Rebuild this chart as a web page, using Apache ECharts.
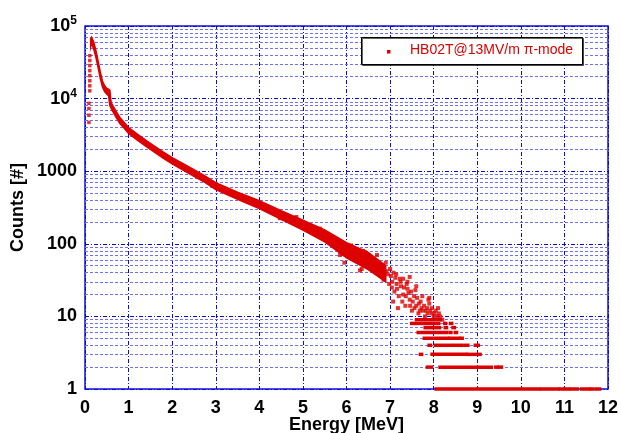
<!DOCTYPE html>
<html>
<head>
<meta charset="utf-8">
<script src="https://cdn.jsdelivr.net/npm/echarts@6/dist/echarts.min.js"></script>
<style>
  html, body { margin: 0; padding: 0; background: #fff; }
  #chart { width: 621px; height: 433px; }
</style>
</head>
<body>
<div id="chart"></div>
<script>
// main band of the spectrum: energy [MeV] with lower / upper edge of the red trace
const energy = [0.13, 0.15, 0.20, 0.25, 0.30, 0.35, 0.40, 0.45, 0.50, 0.54, 0.57, 0.60, 0.70, 0.80, 0.90,
  1.00, 1.20, 1.40, 1.60, 1.80, 2.00, 2.20, 2.50, 2.75, 3.00, 3.50, 4.00, 4.50, 5.00, 5.50, 6.00, 6.50, 6.90];
const bandLow = [52000, 58000, 48000, 37000, 27000, 19000, 14500, 12500, 11500, 11000, 8000, 7300, 5700, 4550, 3900,
  3300, 2680, 2200, 1820, 1500, 1260, 1080, 850, 700, 560, 410, 305, 218, 154, 106, 64, 44, 30];
const bandHigh = [66000, 70000, 60000, 46000, 33000, 23500, 17500, 15000, 13800, 13500, 13000, 8800, 6900, 5500, 4700,
  4000, 3250, 2660, 2200, 1830, 1540, 1320, 1050, 860, 695, 515, 392, 285, 212, 155, 104, 76, 50];

// rising edge column near 0.1 MeV
const edgeE = [0.11, 0.11, 0.11, 0.11, 0.11, 0.11, 0.11, 0.11, 0.09, 0.09, 0.09, 0.09];
const edgeCounts = [39000, 33500, 28500, 24300, 20700, 17600, 15000, 12800, 8600, 7300, 5900, 4700];

// scattered points of the noisy tail
const tailPoints = [
  [4.47, 225], [4.85, 234], [5.39, 162], [5.85, 70], [5.95, 55], [6.10, 95], [6.31, 43], [6.35, 45],
  [6.38, 80], [6.42, 77], [6.60, 45], [6.70, 70], [6.75, 38], [6.85, 32], [6.90, 55], [7.00, 45],
  [7.05, 30], [7.07, 16], [7.10, 22], [7.15, 28], [7.18, 13], [7.22, 33], [7.25, 26], [7.30, 20],
  [7.35, 14], [7.40, 24], [7.40, 30], [7.45, 17], [7.50, 12], [7.55, 19], [7.60, 14], [7.65, 11],
  [7.70, 16], [7.75, 12], [7.80, 10], [7.85, 13], [7.90, 15], [7.95, 11], [8.00, 10], [8.05, 12],
  [8.10, 13], [8.15, 10], [8.20, 9],
  [6.95, 38], [6.98, 28], [7.02, 36], [7.08, 40], [7.12, 34], [7.16, 24], [7.20, 19], [7.24, 30],
  [7.28, 16], [7.32, 25], [7.36, 19], [7.38, 28], [7.42, 21], [7.46, 14], [7.48, 22], [7.52, 16],
  [7.56, 13], [7.58, 23], [7.62, 18], [7.66, 15], [7.68, 12], [7.72, 13], [7.74, 19], [7.78, 14],
  [7.82, 12], [7.86, 11], [7.88, 17], [7.92, 12], [7.96, 13], [8.02, 11], [8.08, 10], [8.12, 11],
  [7.45, 35], [7.30, 33], [7.60, 26], [7.90, 18], [6.80, 48], [6.92, 42], [7.04, 25], [7.14, 38]
];

// runs of single counts: [counts, from MeV, to MeV]
const countRuns = [
  [9, 7.60, 8.15],
  [8, 7.49, 8.12], [8, 8.25, 8.28], [8, 8.38, 8.42],
  [7, 7.80, 8.14], [7, 8.26, 8.30], [7, 8.44, 8.48],
  [6, 7.64, 8.30], [6, 8.37, 8.40], [6, 8.49, 8.53],
  [5, 7.78, 8.33], [5, 8.37, 8.58], [5, 8.62, 8.66],
  [4, 7.89, 7.93], [4, 8.03, 8.66], [4, 8.73, 8.79], [4, 8.95, 9.03],
  [3, 7.69, 7.73], [3, 7.96, 8.75], [3, 8.79, 9.07],
  [2, 7.85, 7.96], [2, 8.14, 9.33], [2, 9.42, 9.47], [2, 9.50, 9.56],
  [1, 8.05, 10.42], [1, 10.47, 10.86], [1, 10.90, 10.96], [1, 11.01, 11.10],
  [1, 11.15, 11.30], [1, 11.39, 11.57], [1, 11.61, 11.66], [1, 11.73, 11.81]
];

const decades = [1, 10, 100, 1000, 10000];
const seriesName = 'HB02T@13MV/m π-mode';
const red = '#dc0000';
const gridBlue = '#0a0ad8';
const minorBlue = '#7070ea';

const minorLevels = [];
for (const d of decades) {
  for (let m = 2; m <= 9; m++) minorLevels.push({ yAxis: d * m });
}

const chart = echarts.init(document.getElementById('chart'));

function yLabel(value) {
  if (value >= 10000) {
    return '10{sup|' + Math.round(Math.log10(value)) + '}';
  }
  return String(value);
}

const boldText = { fontFamily: 'Liberation Sans', fontWeight: 'bold', fontSize: 18, color: '#000' };

chart.setOption({
  animation: false,
  grid: {
    left: 85, right: 13, top: 26, bottom: 44,
    outerBoundsMode: 'none',
    containLabel: false,
    show: true, borderColor: '#1010dd', borderWidth: 1.5
  },
  xAxis: {
    type: 'value', min: 0, max: 12, interval: 1,
    name: 'Energy [MeV]', nameLocation: 'middle', nameGap: 27,
    nameMoveOverlap: false,
    nameTextStyle: boldText,
    axisLine: { show: false }, axisTick: { show: false },
    axisLabel: { ...boldText, margin: 10 },
    splitLine: { show: true, lineStyle: { color: gridBlue, width: 1, type: [4, 2, 1, 2] } }
  },
  yAxis: {
    type: 'log', logBase: 10, min: 1, max: 100000,
    name: 'Counts [#]', nameLocation: 'middle', nameGap: 58,
    nameMoveOverlap: false,
    nameTextStyle: boldText,
    axisLine: { show: false }, axisTick: { show: false },
    axisLabel: {
      ...boldText, margin: 8,
      formatter: yLabel,
      rich: { sup: { fontFamily: 'Liberation Sans', fontWeight: 'bold', fontSize: 12, color: '#000', verticalAlign: 'bottom', padding: [0, 0, 10, 0] } }
    },
    splitLine: { show: true, lineStyle: { color: gridBlue, width: 1, type: [4, 2, 1, 2] } }
  },
  series: [
    {
      name: 'minor grid',
      type: 'line',
      data: [[0, 1]],
      showSymbol: false,
      lineStyle: { opacity: 0 },
      silent: true,
      z: 1,
      markLine: {
        silent: true,
        symbol: 'none',
        label: { show: false },
        lineStyle: { color: minorBlue, width: 1, type: [3, 2] },
        data: minorLevels
      }
    },
    {
      name: seriesName,
      type: 'custom',
      z: 5,
      data: [[0, 1]],
      renderItem(params, api) {
        const points = [];
        for (let i = 0; i < energy.length; i++) points.push(api.coord([energy[i], bandHigh[i]]));
        for (let i = energy.length - 1; i >= 0; i--) points.push(api.coord([energy[i], bandLow[i]]));
        return {
          type: 'polygon',
          shape: { points },
          style: { fill: red, stroke: red, lineWidth: 1.5 }
        };
      }
    },
    {
      name: seriesName,
      type: 'scatter',
      z: 5,
      symbol: 'rect',
      symbolSize: 3.5,
      itemStyle: { color: red },
      data: edgeE.map((e, i) => [e, edgeCounts[i]])
    },
    {
      name: seriesName,
      type: 'scatter',
      z: 5,
      symbol: 'rect',
      symbolSize: 4,
      itemStyle: { color: red },
      data: tailPoints
    },
    {
      name: seriesName,
      type: 'custom',
      z: 6,
      clip: false,
      encode: { x: [1, 2], y: 0 },
      data: countRuns,
      renderItem(params, api) {
        const p0 = api.coord([api.value(1), api.value(0)]);
        const p1 = api.coord([api.value(2), api.value(0)]);
        return {
          type: 'rect',
          shape: { x: p0[0] - 1.5, y: p0[1] - 1.75, width: p1[0] - p0[0] + 3, height: 3.5 },
          style: { fill: red }
        };
      }
    }
  ],
  graphic: [
    {
      type: 'rect',
      left: 361, top: 37, z: 100,
      shape: { width: 221, height: 27 },
      style: { fill: '#fff', stroke: '#000', lineWidth: 1, shadowColor: 'rgba(0,0,0,0.6)', shadowOffsetX: 1, shadowOffsetY: 1 }
    },
    {
      type: 'rect',
      left: 387, top: 50, z: 101,
      shape: { width: 3.5, height: 3.5 },
      style: { fill: red }
    },
    {
      type: 'text',
      left: 410, top: 43, z: 101,
      style: { text: seriesName, fill: red, font: '14px "Liberation Sans"' }
    }
  ]
});
</script>
</body>
</html>
